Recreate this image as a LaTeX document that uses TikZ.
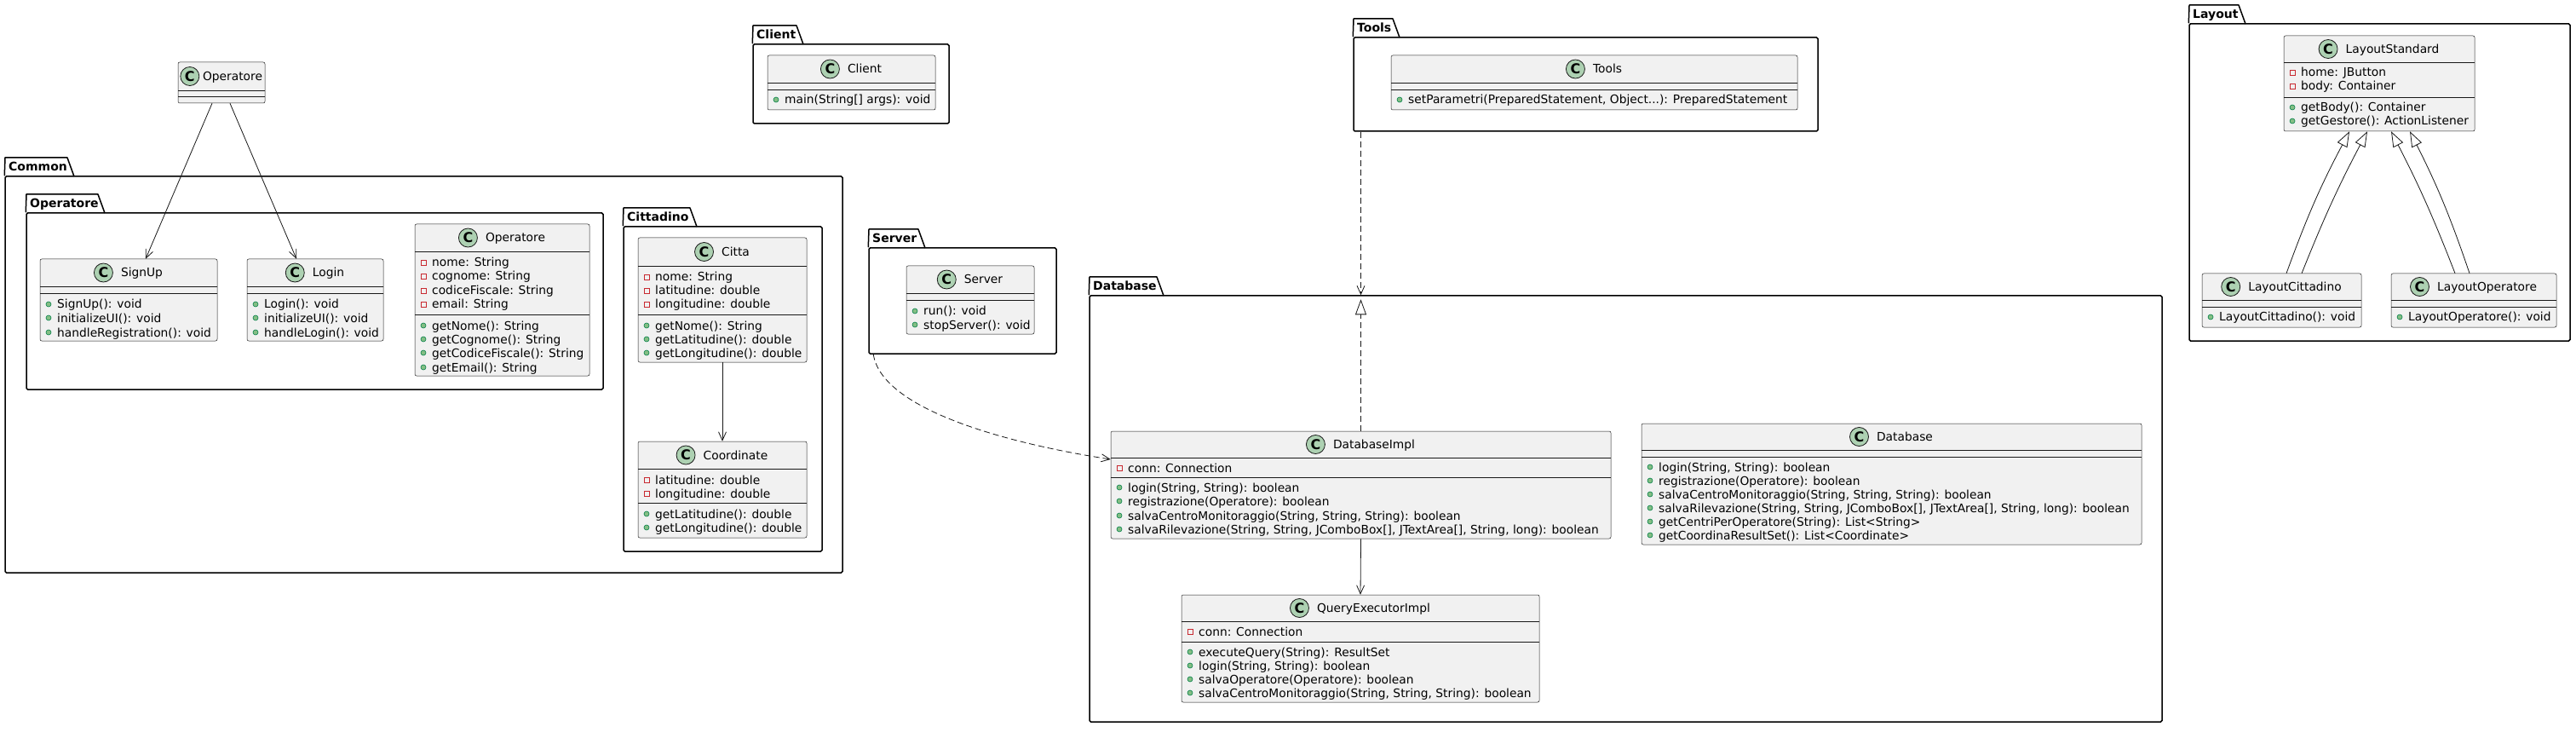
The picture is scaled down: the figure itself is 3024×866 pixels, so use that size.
\documentclass[tikz,border=0pt]{standalone}
\usepackage{fontspec}
\setmainfont{DejaVu Sans}
\usetikzlibrary{positioning,fit,calc,arrows.meta}

\definecolor{clsbg}{HTML}{F1F1F1}
\definecolor{clsline}{HTML}{181818}
\definecolor{badgebg}{HTML}{ADD1B2}
\definecolor{pubfill}{HTML}{84BE84}
\definecolor{publine}{HTML}{038048}
\definecolor{privline}{HTML}{C82930}

\tikzset{
  cls/.style={draw=clsline, line width=0.5pt, fill=clsbg, rounded corners=2pt, inner sep=0pt},
  pkg/.style={draw=black, line width=1.5pt, rounded corners=1.5pt, inner sep=0pt},
  pkgline/.style={draw=black, line width=1.5pt, line join=round},
  pkgname/.style={font=\fontsize{14}{14}\selectfont\bfseries, inner sep=0pt, anchor=west, text height=10pt, text depth=0pt},
  cname/.style={font=\fontsize{13.8}{16}\selectfont, inner sep=0pt, text height=10pt, text depth=0pt},
  badge/.style={circle, draw=clsline, line width=0.8pt, fill=badgebg, minimum size=22pt, inner sep=0pt, font=\fontsize{16}{16}\selectfont\bfseries},
  mem/.style={font=\fontsize{13.8}{16}\selectfont, inner sep=0pt, anchor=west, text height=10pt, text depth=0pt},
  sepline/.style={draw=clsline, line width=0.5pt},
  pubdot/.style={draw=publine, fill=pubfill, line width=0.6pt},
  privsq/.style={draw=privline, line width=0.8pt},
  assoc/.style={draw=clsline, line width=0.8pt, -{Straight Barb[length=10pt,width=9pt]}},
  dep/.style={assoc, dash pattern=on 7pt off 4pt},
  realize/.style={draw=clsline, line width=0.8pt, dash pattern=on 7pt off 4pt, -{Triangle[open,length=18pt,width=13pt]}},
  extend/.style={draw=clsline, line width=0.8pt, -{Triangle[open,length=18pt,width=13pt]}}
}

\begin{document}
\begin{tikzpicture}[x=1pt,y=-1pt]
%\draw[step=100,gray,very thin] (0,0) grid (3024,866);
\useasboundingbox (0,0) rectangle (3024,866);
\fill[white] (0,0) rectangle (3024,866);

% packages
\node[pkg, fit={(6,207) (989,672)}] (commonPkg) {};
\draw[pkgline] (commonPkg.north west) -- (6,185) -- (79,185) -- (87,207);
\node[pkgname] (commonLbl) at (10,196) {Common};

\node[pkg, fit={(31,250) (708,457)}] (operatorePkg) {};
\draw[pkgline] (operatorePkg.north west) -- (31,228) -- (115,228) -- (123,250);
\node[pkgname] (operatoreLbl) at (35,239) {Operatore};

\node[pkg, fit={(732,266) (965,647)}] (cittadinoPkg) {};
\draw[pkgline] (cittadinoPkg.north west) -- (732,244) -- (810,244) -- (818,266);
\node[pkgname] (cittadinoLbl) at (736,255) {Cittadino};

\node[pkg, fit={(884,52) (1114,145)}] (clientPkg) {};
\draw[pkgline] (clientPkg.north west) -- (884,30) -- (935,30) -- (943,52);
\node[pkgname] (clientLbl) at (888,41) {Client};

\node[pkg, fit={(1589,44) (2134,154)}] (toolsPkg) {};
\draw[pkgline] (toolsPkg.north west) -- (1589,22) -- (1635,22) -- (1643,44);
\node[pkgname] (toolsLbl) at (1593,33) {Tools};

\node[pkg, fit={(1020,291) (1240,415)}] (serverPkg) {};
\draw[pkgline] (serverPkg.north west) -- (1020,269) -- (1078,269) -- (1086,291);
\node[pkgname] (serverLbl) at (1024,280) {Server};

\node[pkg, fit={(1279,347) (2538,847)}] (dbPkg) {};
\draw[pkgline] (dbPkg.north west) -- (1279,325) -- (1358,325) -- (1366,347);
\node[pkgname] (dbLbl) at (1283,336) {Database};

\node[pkg, fit={(2570,28) (3017,400)}] (layoutPkg) {};
\draw[pkgline] (layoutPkg.north west) -- (2570,6) -- (2628,6) -- (2636,28);
\node[pkgname] (layoutLbl) at (2574,17) {Layout};

% Operatore (outside)
\node[cls, fit={(209,73) (311,121)}] (opTop) {};
\node[cname] (opTopName) at (273,89.5) {Operatore};
\node[badge, left=3.6pt of opTopName] (opTopC) {C};
\draw[sepline] (209,106) -- (311,106);
\draw[sepline] (209,113) -- (311,113);

% SignUp
\node[cls, fit={(47,304) (255,400)}] (signup) {};
\node[cname] (signupName) at (166.5,320) {SignUp};
\node[badge, left=9pt of signupName] (signupC) {C};
\draw[sepline] (47,336) -- (255,336);
\draw[sepline] (47,344) -- (255,344);
\draw[pubdot] (57,357) circle (3pt); \node[mem] (signup1) at (67,357) {SignUp(): void};
\draw[pubdot] (57,373) circle (3pt); \node[mem] (signup2) at (67,373) {initializeUI(): void};
\draw[pubdot] (57,390) circle (3pt); \node[mem] (signup3) at (67,390) {handleRegistration(): void};

% Login
\node[cls, fit={(290,304) (450,400)}] (login) {};
\node[cname] (loginName) at (385.5,320) {Login};
\node[badge, left=9pt of loginName] (loginC) {C};
\draw[sepline] (290,336) -- (450,336);
\draw[sepline] (290,344) -- (450,344);
\draw[pubdot] (300,357) circle (3pt); \node[mem] (login1) at (310,357) {Login(): void};
\draw[pubdot] (300,373) circle (3pt); \node[mem] (login2) at (310,373) {initializeUI(): void};
\draw[pubdot] (300,390) circle (3pt); \node[mem] (login3) at (310,390) {handleLogin(): void};

% Operatore (inside)
\node[cls, fit={(487,263) (692,441)}] (opIn) {};
\node[cname] (opInName) at (605,279) {Operatore};
\node[badge, left=9pt of opInName] (opInC) {C};
\draw[sepline] (487,295) -- (692,295);
\draw[sepline] (487,369) -- (692,369);
\draw[privsq] (494,305) rectangle (500,311); \node[mem] (opIn1) at (507,308) {nome: String};
\draw[privsq] (494,321) rectangle (500,327); \node[mem] (opIn2) at (507,324) {cognome: String};
\draw[privsq] (494,338) rectangle (500,344); \node[mem] (opIn3) at (507,341) {codiceFiscale: String};
\draw[privsq] (494,354) rectangle (500,360); \node[mem] (opIn4) at (507,357) {email: String};
\draw[pubdot] (497,382) circle (3pt); \node[mem] (opIn5) at (507,382) {getNome(): String};
\draw[pubdot] (497,398) circle (3pt); \node[mem] (opIn6) at (507,398) {getCognome(): String};
\draw[pubdot] (497,414) circle (3pt); \node[mem] (opIn7) at (507,414) {getCodiceFiscale(): String};
\draw[pubdot] (497,431) circle (3pt); \node[mem] (opIn8) at (507,431) {getEmail(): String};

% Citta
\node[cls, fit={(749,279) (947,425)}] (citta) {};
\node[cname] (cittaName) at (863.5,295.5) {Citta};
\node[badge, left=9pt of cittaName] (cittaC) {C};
\draw[sepline] (749,312) -- (947,312);
\draw[sepline] (749,369) -- (947,369);
\draw[privsq] (756,322) rectangle (762,328); \node[mem] (citta1) at (769,325) {nome: String};
\draw[privsq] (756,338) rectangle (762,344); \node[mem] (citta2) at (769,341) {latitudine: double};
\draw[privsq] (756,354) rectangle (762,360); \node[mem] (citta3) at (769,357) {longitudine: double};
\draw[pubdot] (759,382) circle (3pt); \node[mem] (citta4) at (769,382) {getNome(): String};
\draw[pubdot] (759,398) circle (3pt); \node[mem] (citta5) at (769,398) {getLatitudine(): double};
\draw[pubdot] (759,414) circle (3pt); \node[mem] (citta6) at (769,414) {getLongitudine(): double};

% Coordinate
\node[cls, fit={(749,518) (947,631)}] (coord) {};
\node[cname] (coordName) at (863.5,534) {Coordinate};
\node[badge, left=9pt of coordName] (coordC) {C};
\draw[sepline] (749,550) -- (947,550);
\draw[sepline] (749,590) -- (947,590);
\draw[privsq] (756,560) rectangle (762,566); \node[mem] (coord1) at (769,563) {latitudine: double};
\draw[privsq] (756,576) rectangle (762,582); \node[mem] (coord2) at (769,579) {longitudine: double};
\draw[pubdot] (759,603) circle (3pt); \node[mem] (coord3) at (769,603) {getLatitudine(): double};
\draw[pubdot] (759,619) circle (3pt); \node[mem] (coord4) at (769,619) {getLongitudine(): double};

% Client
\node[cls, fit={(901,65) (1098,129)}] (client) {};
\node[cname] (clientName) at (1015,81) {Client};
\node[badge, left=9pt of clientName] (clientC) {C};
\draw[sepline] (901,97) -- (1098,97);
\draw[sepline] (901,105) -- (1098,105);
\draw[pubdot] (911,117) circle (3pt); \node[mem] (client1) at (921,117) {main(String[] args): void};

% Tools
\node[cls, fit={(1633,65) (2110,129)}] (tools) {};
\node[cname] (toolsName) at (1887,81) {Tools};
\node[badge, left=9pt of toolsName] (toolsC) {C};
\draw[sepline] (1633,97) -- (2110,97);
\draw[sepline] (1633,105) -- (2110,105);
\draw[pubdot] (1643,117) circle (3pt); \node[mem] (tools1) at (1653,117) {setParametri(PreparedStatement, Object...): PreparedStatement};

% Server
\node[cls, fit={(1064,312) (1214,392)}] (server) {};
\node[cname] (serverName) at (1154.5,328) {Server};
\node[badge, left=9pt of serverName] (serverC) {C};
\draw[sepline] (1064,344) -- (1214,344);
\draw[sepline] (1064,352) -- (1214,352);
\draw[pubdot] (1074,365) circle (3pt); \node[mem] (server1) at (1084,365) {run(): void};
\draw[pubdot] (1074,381) circle (3pt); \node[mem] (server2) at (1084,381) {stopServer(): void};

% DatabaseImpl
\node[cls, fit={(1304,506) (1891,632)}] (dbImpl) {};
\node[cname] (dbImplName) at (1613,521.5) {DatabaseImpl};
\node[badge, left=9pt of dbImplName] (dbImplC) {C};
\draw[sepline] (1304,537) -- (1891,537);
\draw[sepline] (1304,560) -- (1891,560);
\draw[privsq] (1311,546) rectangle (1317,552); \node[mem] (dbImpl1) at (1324,549) {conn: Connection};
\draw[pubdot] (1314,572) circle (3pt); \node[mem] (dbImpl2) at (1324,572) {login(String, String): boolean};
\draw[pubdot] (1314,588) circle (3pt); \node[mem] (dbImpl3) at (1324,588) {registrazione(Operatore): boolean};
\draw[pubdot] (1314,605) circle (3pt); \node[mem] (dbImpl4) at (1324,605) {salvaCentroMonitoraggio(String, String, String): boolean};
\draw[pubdot] (1314,621) circle (3pt); \node[mem] (dbImpl5) at (1324,621) {salvaRilevazione(String, String, JComboBox[], JTextArea[], String, long): boolean};

% QueryExecutorImpl
\node[cls, fit={(1387,698) (1807,824)}] (qexec) {};
\node[cname] (qexecName) at (1612.5,713.5) {QueryExecutorImpl};
\node[badge, left=9pt of qexecName] (qexecC) {C};
\draw[sepline] (1387,729) -- (1807,729);
\draw[sepline] (1387,753) -- (1807,753);
\draw[privsq] (1394,738) rectangle (1400,744); \node[mem] (qexec1) at (1407,741) {conn: Connection};
\draw[pubdot] (1397,765) circle (3pt); \node[mem] (qexec2) at (1407,765) {executeQuery(String): ResultSet};
\draw[pubdot] (1397,781) circle (3pt); \node[mem] (qexec3) at (1407,781) {login(String, String): boolean};
\draw[pubdot] (1397,797) circle (3pt); \node[mem] (qexec4) at (1407,797) {salvaOperatore(Operatore): boolean};
\draw[pubdot] (1397,813) circle (3pt); \node[mem] (qexec5) at (1407,813) {salvaCentroMonitoraggio(String, String, String): boolean};

% Database
\node[cls, fit={(1927,497) (2514,639)}] (dbCls) {};
\node[cname] (dbClsName) at (2236,512.5) {Database};
\node[badge, left=9pt of dbClsName] (dbClsC) {C};
\draw[sepline] (1927,528) -- (2514,528);
\draw[sepline] (1927,536) -- (2514,536);
\draw[pubdot] (1937,548) circle (3pt); \node[mem] (dbCls1) at (1947,548) {login(String, String): boolean};
\draw[pubdot] (1937,564) circle (3pt); \node[mem] (dbCls2) at (1947,564) {registrazione(Operatore): boolean};
\draw[pubdot] (1937,580) circle (3pt); \node[mem] (dbCls3) at (1947,580) {salvaCentroMonitoraggio(String, String, String): boolean};
\draw[pubdot] (1937,596) circle (3pt); \node[mem] (dbCls4) at (1947,596) {salvaRilevazione(String, String, JComboBox[], JTextArea[], String, long): boolean};
\draw[pubdot] (1937,612) circle (3pt); \node[mem] (dbCls5) at (1947,612) {getCentriPerOperatore(String): List<String>};
\draw[pubdot] (1937,628) circle (3pt); \node[mem] (dbCls6) at (1947,628) {getCoordinaResultSet(): List<Coordinate>};

% LayoutStandard
\node[cls, fit={(2681,42) (2905,154)}] (layStd) {};
\node[cname] (layStdName) at (2808.5,57.5) {LayoutStandard};
\node[badge, left=9pt of layStdName] (layStdC) {C};
\draw[sepline] (2681,73) -- (2905,73);
\draw[sepline] (2681,114) -- (2905,114);
\draw[privsq] (2688,82) rectangle (2694,88); \node[mem] (layStd1) at (2701,85) {home: JButton};
\draw[privsq] (2688,98) rectangle (2694,104); \node[mem] (layStd2) at (2701,101) {body: Container};
\draw[pubdot] (2691,126) circle (3pt); \node[mem] (layStd3) at (2701,126) {getBody(): Container};
\draw[pubdot] (2691,142) circle (3pt); \node[mem] (layStd4) at (2701,142) {getGestore(): ActionListener};

% LayoutCittadino
\node[cls, fit={(2585,321) (2772,384)}] (layCit) {};
\node[cname] (layCitName) at (2694,336.5) {LayoutCittadino};
\node[badge, left=9pt of layCitName] (layCitC) {C};
\draw[sepline] (2585,352) -- (2772,352);
\draw[sepline] (2585,360) -- (2772,360);
\draw[pubdot] (2595,372) circle (3pt); \node[mem] (layCit1) at (2605,372) {LayoutCittadino(): void};

% LayoutOperatore
\node[cls, fit={(2807,321) (3001,384)}] (layOp) {};
\node[cname] (layOpName) at (2919.5,336.5) {LayoutOperatore};
\node[badge, left=9pt of layOpName] (layOpC) {C};
\draw[sepline] (2807,352) -- (3001,352);
\draw[sepline] (2807,360) -- (3001,360);
\draw[pubdot] (2817,372) circle (3pt); \node[mem] (layOp1) at (2827,372) {LayoutOperatore(): void};

% connectors
\draw[assoc] ([xshift=-11pt]opTop.south) -- ([xshift=20pt]signup.north);
\draw[assoc] ([xshift=10pt]opTop.south) -- ([xshift=-22pt]login.north);
\draw[assoc] (citta.south) -- (coord.north);
\draw[dep] (toolsPkg.south -| dbImpl.north) -- (dbPkg.north -| dbImpl.north);
\draw[realize] (dbImpl.north) -- ($(dbPkg.north -| dbImpl.north)+(0,5)$);
\draw[assoc] (dbImpl.south) -- (qexec.north);
\draw[dep] ([xshift=6pt]serverPkg.south west) .. controls (1035,480) and (1180,520) .. ([yshift=30pt]dbImpl.west);
\draw[extend] ([xshift=5.5pt]layCit.north) to[bend left=4] ([xshift=-35pt]layStd.south);
\draw[extend] ([xshift=23.5pt]layCit.north) to[bend left=3] ([xshift=-14pt]layStd.south);
\draw[extend] ([xshift=-22pt]layOp.north) to[bend right=3] ([xshift=14pt]layStd.south);
\draw[extend] ([xshift=-5pt]layOp.north) to[bend right=4] ([xshift=36pt]layStd.south);

\end{tikzpicture}
\end{document}
